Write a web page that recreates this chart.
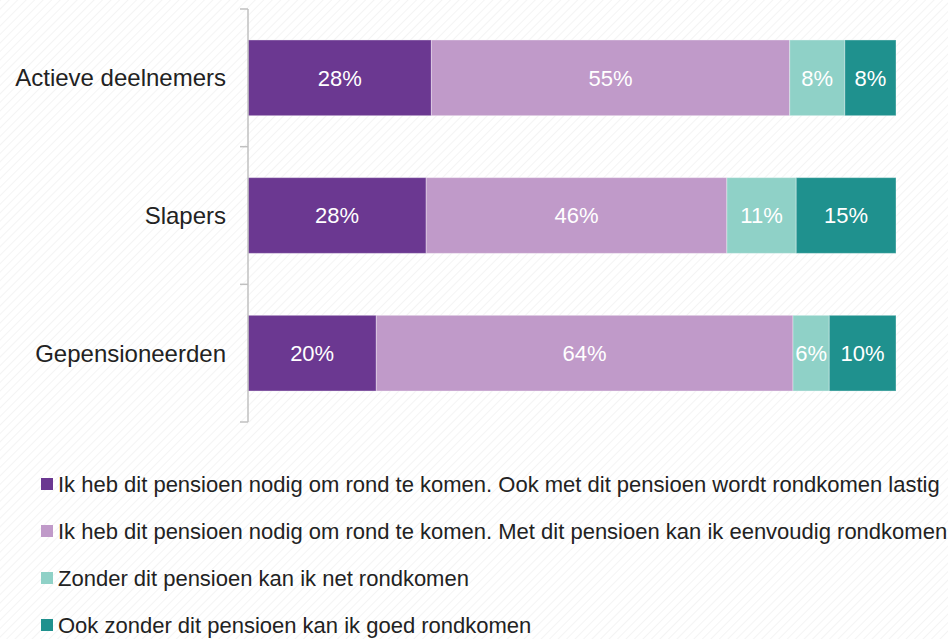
<!DOCTYPE html>
<html>
<head>
<meta charset="utf-8">
<script src="https://cdn.jsdelivr.net/npm/d3@7"></script>
<style>
  body { margin: 0; background: #fff; }
  svg { display: block; font-family: "Liberation Sans", Arial, sans-serif; }
</style>
</head>
<body>
<div id="chart"></div>
<script>
// Data
const groups = ['Actieve deelnemers', 'Slapers', 'Gepensioneerden'];
const series = [
  'Ik heb dit pensioen nodig om rond te komen. Ook met dit pensioen wordt rondkomen lastig',
  'Ik heb dit pensioen nodig om rond te komen. Met dit pensioen kan ik eenvoudig rondkomen',
  'Zonder dit pensioen kan ik net rondkomen',
  'Ook zonder dit pensioen kan ik goed rondkomen',
];
const values = {
  'Actieve deelnemers': [28.3, 55.3, 8.5, 7.9],
  'Slapers': [27.5, 46.4, 10.7, 15.4],
  'Gepensioneerden': [19.8, 64.3, 5.6, 10.3],
};
const labels = {
  'Actieve deelnemers': ['28%', '55%', '8%', '8%'],
  'Slapers': ['28%', '46%', '11%', '15%'],
  'Gepensioneerden': ['20%', '64%', '6%', '10%'],
};
const colors = ['#6b3891', '#c09ac9', '#8fd1c7', '#1f918e'];

const width = 948;
const height = 639;
const margin = { top: 9, left: 248, right: 52 };
const plotHeight = 413;

const svg = d3
  .select('#chart')
  .append('svg')
  .attr('width', width)
  .attr('height', height);

// faint diagonal hatch background
const defs = svg.append('defs');
const pat = defs
  .append('pattern')
  .attr('id', 'hatch')
  .attr('width', 6)
  .attr('height', 6)
  .attr('patternUnits', 'userSpaceOnUse')
  .attr('patternTransform', 'rotate(-45)');
pat.append('rect').attr('width', 6).attr('height', 6).attr('fill', '#fff');
pat
  .append('line')
  .attr('x1', 0)
  .attr('y1', 0)
  .attr('x2', 6)
  .attr('y2', 0)
  .attr('stroke', '#f1f1f1')
  .attr('stroke-width', 1.5);
svg
  .append('rect')
  .attr('width', width)
  .attr('height', height)
  .attr('fill', 'url(#hatch)');

const g = svg
  .append('g')
  .attr('transform', `translate(${margin.left},${margin.top})`);

const x = d3
  .scaleLinear()
  .domain([0, 100])
  .range([0, width - margin.left - margin.right]);

const y = d3
  .scaleBand()
  .domain(groups)
  .range([0, plotHeight])
  .paddingInner(0.45)
  .paddingOuter(0.225);

// Stack the segments
const rows = groups.map((grp) => {
  let acc = 0;
  return values[grp].map((v, i) => {
    const seg = { group: grp, i: i, x0: acc, x1: acc + v, label: labels[grp][i] };
    acc += v;
    return seg;
  });
});

const bars = g
  .selectAll('g.bar')
  .data(rows)
  .enter()
  .append('g')
  .attr('class', 'bar');

bars
  .selectAll('rect')
  .data((d) => d)
  .enter()
  .append('rect')
  .attr('x', (d) => x(d.x0))
  .attr('y', (d) => y(d.group))
  .attr('width', (d) => x(d.x1) - x(d.x0))
  .attr('height', y.bandwidth())
  .attr('fill', (d) => colors[d.i])
  .attr('stroke', 'rgba(255,255,255,0.35)')
  .attr('stroke-width', 1);

bars
  .selectAll('text')
  .data((d) => d)
  .enter()
  .append('text')
  .attr('x', (d) => (x(d.x0) + x(d.x1)) / 2)
  .attr('y', (d) => y(d.group) + y.bandwidth() / 2)
  .attr('dy', '0.36em')
  .attr('text-anchor', 'middle')
  .attr('fill', '#fff')
  .style('font-size', '22px')
  .text((d) => d.label);

// Category axis with ticks between bands
g.append('line')
  .attr('x1', 0)
  .attr('x2', 0)
  .attr('y1', 0)
  .attr('y2', plotHeight)
  .attr('stroke', '#c0c0c0')
  .attr('stroke-width', 1.5);

g.selectAll('line.tick')
  .data(d3.range(groups.length + 1))
  .enter()
  .append('line')
  .attr('class', 'tick')
  .attr('x1', -8)
  .attr('x2', 0)
  .attr('y1', (i) => i * (plotHeight / groups.length))
  .attr('y2', (i) => i * (plotHeight / groups.length))
  .attr('stroke', '#c0c0c0')
  .attr('stroke-width', 1.5);

g.selectAll('text.cat')
  .data(groups)
  .enter()
  .append('text')
  .attr('class', 'cat')
  .attr('x', -22)
  .attr('y', (d) => y(d) + y.bandwidth() / 2)
  .attr('dy', '0.36em')
  .attr('text-anchor', 'end')
  .attr('fill', '#222')
  .style('font-size', '24px')
  .text((d) => d);

// Legend
const legend = svg
  .selectAll('g.legend')
  .data(series)
  .enter()
  .append('g')
  .attr('class', 'legend')
  .attr('transform', (d, i) => `translate(41,${484 + i * 47})`);

legend
  .append('rect')
  .attr('x', 0)
  .attr('y', -6)
  .attr('width', 12)
  .attr('height', 12)
  .attr('fill', (d, i) => colors[i]);

legend
  .append('text')
  .attr('x', 17)
  .attr('y', 0)
  .attr('dy', '0.36em')
  .attr('fill', '#222')
  .style('font-size', '22px')
  .text((d) => d);
</script>
</body>
</html>
